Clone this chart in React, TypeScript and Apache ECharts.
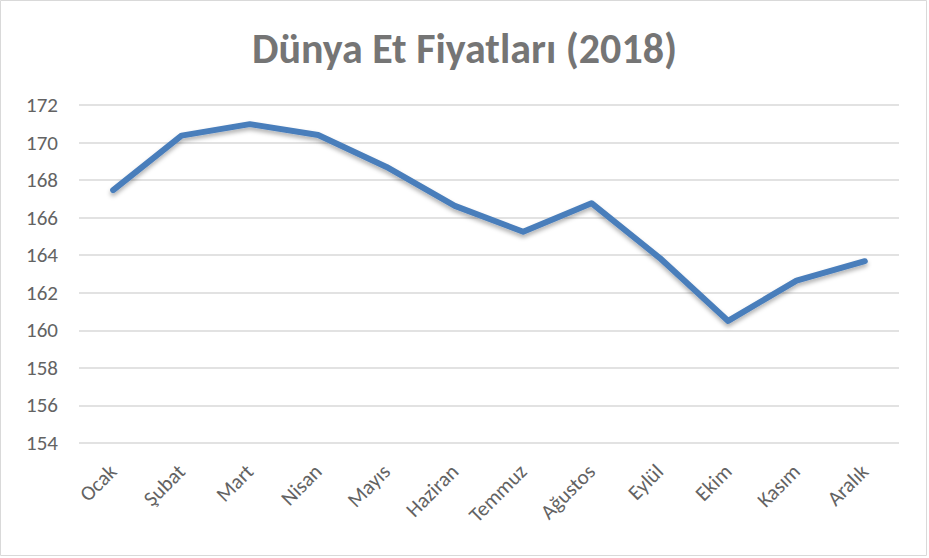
import React, { useEffect, useRef } from "react";
import * as echarts from "echarts";

const title = "Dünya Et Fiyatları (2018)";
const months = ["Ocak", "Şubat", "Mart", "Nisan", "Mayıs", "Haziran", "Temmuz", "Ağustos", "Eylül", "Ekim", "Kasım", "Aralık"];
const prices = [167.47, 170.37, 170.98, 170.4, 168.7, 166.63, 165.25, 166.77, 163.85, 160.5, 162.65, 163.68];
const yMin = 154;
const yMax = 172;
const yStep = 2;

const FONT = "Carlito, Calibri, Lato, sans-serif";

export default function App() {
  const ref = useRef<HTMLDivElement>(null);
  useEffect(() => {
    if (!ref.current) return;
    const chart = echarts.init(ref.current, null, { renderer: "svg" });
    chart.setOption({
      animation: false,
      backgroundColor: "#ffffff",
      title: {
        text: title,
        left: "center",
        top: 22,
        textStyle: { fontFamily: FONT, fontSize: 42, fontWeight: "bold", color: "#757575" },
      },
      graphic: [
        {
          type: "rect",
          shape: { x: 0.5, y: 0.5, width: 926, height: 555 },
          style: { fill: "none", stroke: "#d9d9d9", lineWidth: 1 },
          silent: true,
        },
      ],
      grid: { left: 79, right: 30, top: 105, bottom: 115 },
      xAxis: {
        type: "category",
        data: months,
        boundaryGap: true,
        axisLine: { show: false },
        axisTick: { show: false },
        axisLabel: {
          rotate: 45,
          margin: 25,
          fontFamily: FONT,
          fontSize: 21,
          color: "#636363",
          interval: 0,
        },
      },
      yAxis: {
        type: "value",
        min: yMin,
        max: yMax,
        interval: yStep,
        axisLine: { show: false },
        axisTick: { show: false },
        splitLine: { lineStyle: { color: "#d9d9d9", width: 1.5 } },
        axisLabel: { margin: 21, fontFamily: FONT, fontSize: 21, color: "#636363" },
      },
      series: [
        {
          type: "line",
          data: prices,
          showSymbol: false,
          symbol: "none",
          lineStyle: {
            color: "#4a7ebb",
            width: 6,
            cap: "round",
            join: "round",
            shadowColor: "rgba(0,0,0,0.3)",
            shadowBlur: 4,
            shadowOffsetY: 3,
          },
        },
      ],
    });
    return () => chart.dispose();
  }, []);
  return (
    <div
      ref={ref}
      style={{ position: "fixed", left: 0, top: 0, width: 929, height: 558 }}
    />
  );
}
